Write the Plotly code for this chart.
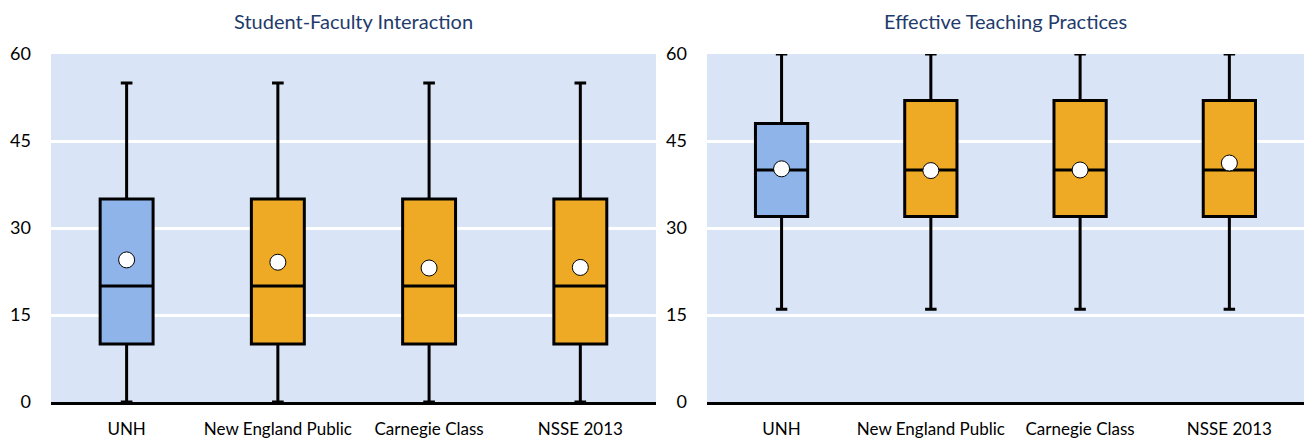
import plotly.graph_objects as go
from plotly.subplots import make_subplots

categories = ["UNH", "New England Public", "Carnegie Class", "NSSE 2013"]
box_colors = ["#8EB4EA", "#EEAA24", "#EEAA24", "#EEAA24"]

# Student-Faculty Interaction
sfi_low = [0, 0, 0, 0]
sfi_q1 = [10, 10, 10, 10]
sfi_median = [20, 20, 20, 20]
sfi_q3 = [35, 35, 35, 35]
sfi_high = [55, 55, 55, 55]
sfi_mean = [24.5, 24.1, 23.1, 23.2]

# Effective Teaching Practices
etp_low = [16, 16, 16, 16]
etp_q1 = [32, 32, 32, 32]
etp_median = [40, 40, 40, 40]
etp_q3 = [48, 52, 52, 52]
etp_high = [60, 60, 60, 60]
etp_mean = [40.2, 39.9, 40.0, 41.2]

FONT = "Lato"

fig = make_subplots(
    rows=1, cols=2,
    subplot_titles=("Student-Faculty Interaction", "Effective Teaching Practices"),
)

panels = [
    (1, sfi_low, sfi_q1, sfi_median, sfi_q3, sfi_high, sfi_mean),
    (2, etp_low, etp_q1, etp_median, etp_q3, etp_high, etp_mean),
]

for col, low, q1, med, q3, high, mean in panels:
    for i, cat in enumerate(categories):
        fig.add_trace(
            go.Box(
                x=[cat],
                lowerfence=[low[i]],
                q1=[q1[i]],
                median=[med[i]],
                q3=[q3[i]],
                upperfence=[high[i]],
                width=0.35,
                whiskerwidth=0.22,
                fillcolor=box_colors[i],
                line={"color": "black", "width": 3},
                showlegend=False,
                hoverinfo="skip",
            ),
            row=1, col=col,
        )
    fig.add_trace(
        go.Scatter(
            x=categories,
            y=mean,
            mode="markers",
            marker={"size": 16, "color": "white", "line": {"color": "black", "width": 1}},
            showlegend=False,
            cliponaxis=False,
        ),
        row=1, col=col,
    )

fig.update_yaxes(
    range=[0, 60],
    tickvals=[0, 15, 30, 45, 60],
    showgrid=True,
    gridcolor="white",
    gridwidth=3,
    zeroline=False,
    ticklabelstandoff=19,
    tickfont={"family": FONT, "size": 18, "color": "black"},
)
fig.update_xaxes(
    range=[-0.5, 3.5],
    showline=True,
    linecolor="black",
    linewidth=2.5,
    showgrid=False,
    ticklabelstandoff=10,
    tickfont={"family": FONT, "size": 17, "color": "black"},
)
fig.update_layout(xaxis={"domain": [0, 0.4828]}, xaxis2={"domain": [0.5235, 1]})

# subplot titles sit over the centre of each panel
for ann, xaxis in zip(fig.layout.annotations, ["xaxis", "xaxis2"]):
    dom = fig.layout[xaxis].domain
    ann.x = (dom[0] + dom[1]) / 2
    ann.font = {"family": FONT, "size": 20, "color": "#1F3B6B"}
    ann.yshift = 19

fig.update_layout(
    width=1304,
    height=439,
    boxmode="overlay",
    margin={"l": 51, "r": 0, "t": 54, "b": 35},
    paper_bgcolor="white",
    plot_bgcolor="#D9E5F6",
)

fig.write_html(
    "out.html",
    config={"displayModeBar": False},
    post_script="document.body.style.margin='0';",
)
